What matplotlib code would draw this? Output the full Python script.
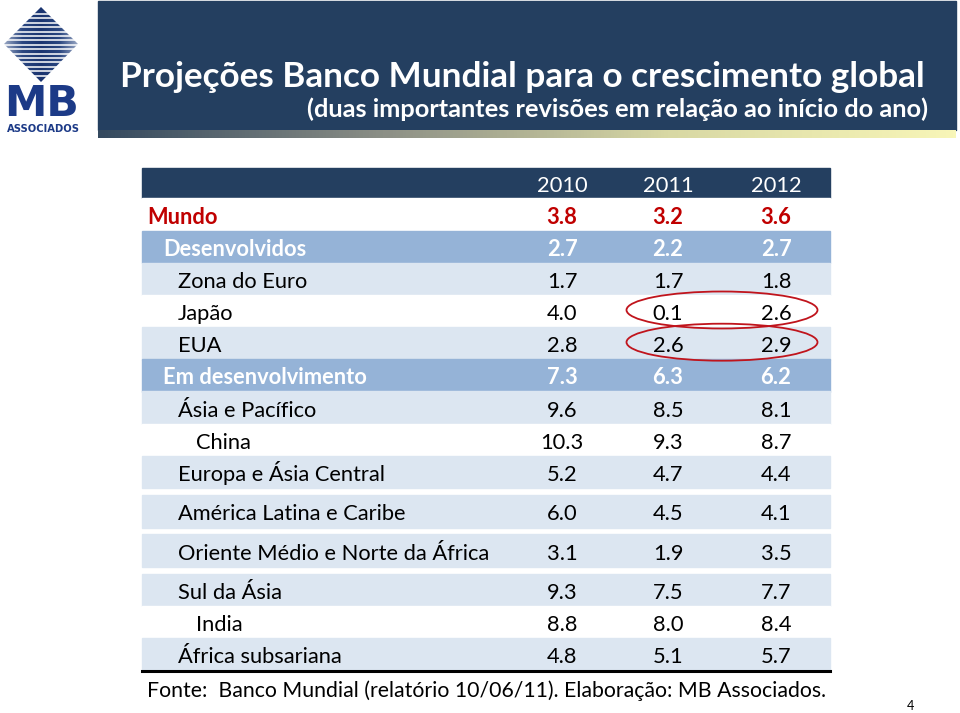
import numpy as np
import matplotlib.pyplot as plt
from matplotlib.patches import Rectangle, Ellipse, Polygon
from matplotlib.colors import LinearSegmentedColormap

plt.rcParams['font.family'] = ['Lato', 'DejaVu Sans']

# dados da tabela (Banco Mundial, 10/06/11)
anos = ['2010', '2011', '2012']
regioes = ['Mundo', 'Desenvolvidos', 'Zona do Euro', 'Japão', 'EUA',
           'Em desenvolvimento', 'Ásia e Pacífico', 'China',
           'Europa e Ásia Central', 'América Latina e Caribe',
           'Oriente Médio e Norte da África', 'Sul da Ásia', 'India',
           'África subsariana']
nivel = [0, 1, 2, 2, 2, 1, 2, 3, 2, 2, 2, 2, 3, 2]
v2010 = [3.8, 2.7, 1.7, 4.0, 2.8, 7.3, 9.6, 10.3, 5.2, 6.0, 3.1, 9.3, 8.8, 4.8]
v2011 = [3.2, 2.2, 1.7, 0.1, 2.6, 6.3, 8.5, 9.3, 4.7, 4.5, 1.9, 7.5, 8.0, 5.1]
v2012 = [3.6, 2.7, 1.8, 2.6, 2.9, 6.2, 8.1, 8.7, 4.4, 4.1, 3.5, 7.7, 8.4, 5.7]
revisoes = ['Japão', 'EUA']   # linhas destacadas com elipse (2011 e 2012)

titulo = 'Projeções Banco Mundial para o crescimento global'
subtitulo = '(duas importantes revisões em relação ao início do ano)'
fonte = 'Fonte:  Banco Mundial (relatório 10/06/11). Elaboração: MB Associados.'

# cores
azul_escuro = '#243F60'
azul_medio = '#95B3D7'
azul_claro = '#DCE6F1'
vermelho = '#C00000'
fundo = ['w', 'm', 'l', 'w', 'l', 'm', 'l', 'w', 'l', 'l', 'l', 'l', 'w', 'l']
cor_fundo = {'w': 'white', 'm': azul_medio, 'l': azul_claro}

fig = plt.figure(figsize=(9.6, 7.13), dpi=100)
ax = fig.add_axes([0, 0, 1, 1])
ax.set_xlim(0, 960)
ax.set_ylim(713, 0)
ax.axis('off')
renderer = fig.canvas.get_renderer()


def ajusta(t, largura):
    # ajusta o tamanho da fonte para a largura desejada (em pixels)
    w = t.get_window_extent(renderer=renderer).width
    t.set_fontsize(t.get_fontsize() * largura / w)
    return t


# ---- faixa do titulo
ax.add_patch(Rectangle((98, 1), 858, 129, color=azul_escuro, zorder=1))
grad = LinearSegmentedColormap.from_list('g', ['#34495f', '#8c8f86', '#d8d8a4', '#f8f6b8'])
ax.imshow(np.linspace(0, 1, 256).reshape(1, -1), cmap=grad, aspect='auto',
          extent=(98, 956, 138, 130), zorder=1)
t = ax.text(120, 87, titulo, color='white', fontsize=24, fontweight='bold',
            ha='left', va='baseline', zorder=3)
ajusta(t, 805)
t = ax.text(928, 117, subtitulo, color='white', fontsize=16, fontweight='bold',
            ha='right', va='baseline', zorder=3)
ajusta(t, 624)

# ---- logo MB
losango = Polygon([(41, 7), (78, 44), (41, 82), (4, 44)], closed=True,
                  facecolor='none', edgecolor='none')
ax.add_patch(losango)
metal = LinearSegmentedColormap.from_list('m', ['#9aa8c4', '#2a4680', '#1a3470', '#2a4680', '#9aa8c4'])
img = ax.imshow(np.linspace(0, 1, 256).reshape(1, -1), cmap=metal, aspect='auto',
                extent=(4, 78, 82, 7), zorder=2)
img.set_clip_path(losango)
for yy in np.arange(14, 80, 4.4):
    ax.plot([0, 82], [yy, yy], color='white', lw=1.1, zorder=2.5)
t = ax.text(42, 116, 'MB', color='#1c3a87', fontsize=28, fontweight='heavy',
            ha='center', va='baseline', family=['DejaVu Sans'])
ajusta(t, 75)
t = ax.text(43, 132, 'ASSOCIADOS', color='#1c3a87', fontsize=7, fontweight='heavy',
            ha='center', va='baseline', family=['DejaVu Sans'])
ajusta(t, 73)

# ---- tabela
x0, x1 = 142, 830
topo_cab, topo = 168, 198.3
h = 32.2
col_x = [562, 668, 776]
recuo = [147, 163, 178, 196]
quebras = [8, 9, 10]   # espaco em branco depois destas linhas

tops = []
y = topo
for i in range(len(regioes)):
    tops.append(y)
    y += h
    if i in quebras:
        y += 7
fim = y

ax.add_patch(Rectangle((x0, topo_cab), x1 - x0, topo - topo_cab, color=azul_escuro, zorder=1))
# tamanho da fonte da tabela a partir da linha mais longa
t = ax.text(0, 0, regioes[10], fontsize=16)
ajusta(t, 314)
fs = t.get_fontsize()
t.remove()

for j, a in enumerate(anos):
    ax.text(col_x[j], topo + -6, a, color='white', fontsize=fs, ha='center', va='baseline')

valores = [v2010, v2011, v2012]
for i, nome in enumerate(regioes):
    yt = tops[i]
    ax.add_patch(Rectangle((x0, yt), x1 - x0, h + 0.4, color=cor_fundo[fundo[i]], zorder=1))
    if nivel[i] == 0:
        cor, peso = vermelho, 'bold'
    elif nivel[i] == 1:
        cor, peso = 'white', 'bold'
    else:
        cor, peso = 'black', 'normal'
    yb = yt + h - 7
    ax.text(recuo[nivel[i]], yb, nome, color=cor, fontweight=peso, fontsize=fs,
            ha='left', va='baseline', zorder=3)
    for j in range(3):
        ax.text(col_x[j], yb, f'{valores[j][i]:.1f}', color=cor, fontweight=peso,
                fontsize=fs, ha='center', va='baseline', zorder=3)
    if nome in revisoes:
        xc = (col_x[1] + col_x[2]) / 2
        ax.add_patch(Ellipse((xc, yt + h / 2 - 1), col_x[2] - col_x[1] + 83, 37,
                             facecolor='none', edgecolor='#C0141C', lw=1.3, zorder=4))

ax.plot([x0, x1], [fim + 1, fim + 1], color='black', lw=2.2, zorder=3)

t = ax.text(147, fim + 27, fonte, color='black', fontsize=fs, ha='left', va='baseline')
ajusta(t, 675)
ax.text(910, 710, '4', color='black', fontsize=9, ha='center', va='baseline')

plt.savefig('out.png', dpi=100)
